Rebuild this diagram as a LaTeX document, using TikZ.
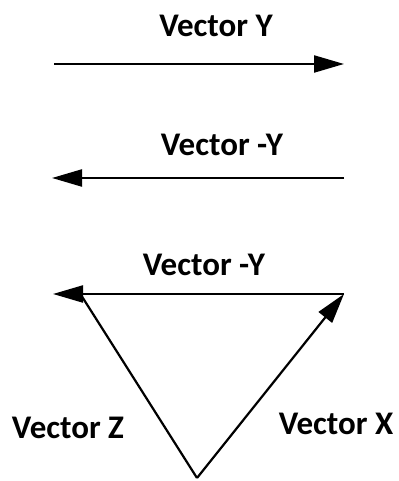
\documentclass[tikz,border=0pt]{standalone}
\usepackage{fontspec}
\setmainfont{Carlito}
\usetikzlibrary{arrows.meta}

\tikzset{
	vec/.style={line width=1.1pt,-{Triangle[length=15pt,width=8.5pt]}},
	plain/.style={line width=1.1pt},
	veclabel/.style={inner sep=0pt,font=\fontsize{16.5}{19}\selectfont\bfseries}
}

\begin{document}
\begin{tikzpicture}[x=0.5pt,y=0.5pt]
				
				\useasboundingbox (0,0) rectangle (399,481);
				
				% first row
				\coordinate (Ya) at (54,417);
				\coordinate (Yb) at (344,417);
				\node[veclabel] (LY) at (216,455) {Vector Y};
				\draw[vec] (Ya) -- (Yb);
				
				% second row
				\coordinate (Ma) at (344,303);
				\coordinate (Mb) at (52,303);
				\node[veclabel] (LM) at (222,336) {Vector -Y};
				\draw[vec] (Ma) -- (Mb);
				
				% triangle
				\coordinate (R) at (344,187);
				\coordinate (L) at (53,187);
				\coordinate (Zt) at (81,186);
				\coordinate (B) at (197,3);
				\node[veclabel] (LT) at (204,216) {Vector -Y};
				\node[veclabel] (LZ) at (68,53) {Vector Z};
				\node[veclabel] (LX) at (336,57) {Vector X};
				\draw[vec] (R) -- (L);
				\draw[vec] (B) -- (R);
				\draw[plain] (B) -- (Zt);
				
			\end{tikzpicture}
\end{document}
